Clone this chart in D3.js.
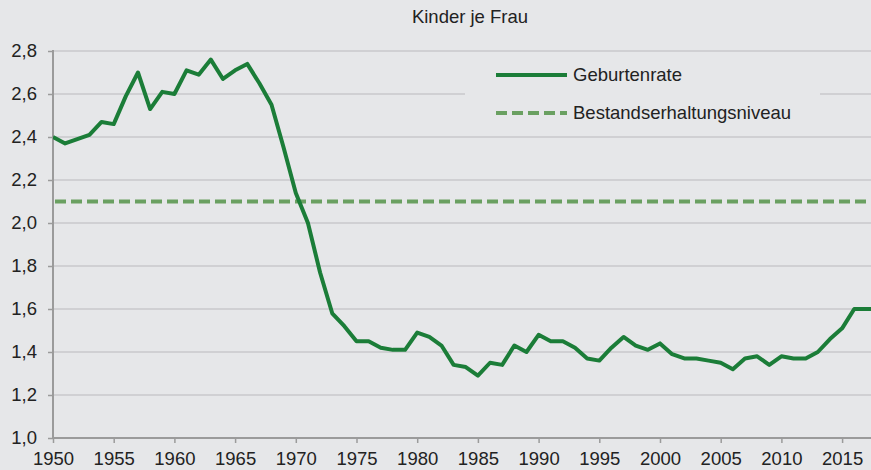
<!DOCTYPE html>
<html><head><meta charset="utf-8">
<script src="https://cdn.jsdelivr.net/npm/d3@7"></script>
<style>
html,body{margin:0;padding:0;background:#e6e7e9;}
svg{display:block;font-family:"Liberation Sans",Arial,sans-serif;}
</style></head>
<body>
<svg id="chart" width="871" height="470"></svg>
<script>
const title = "Kinder je Frau";
const years = d3.range(1950, 2019);
const birthRate = [
 2.40,2.37,2.39,2.41,2.47,2.46,2.59,2.70,2.53,2.61,
 2.60,2.71,2.69,2.76,2.67,2.71,2.74,2.65,2.55,2.35,
 2.14,2.00,1.77,1.58,1.52,1.45,1.45,1.42,1.41,1.41,
 1.49,1.47,1.43,1.34,1.33,1.29,1.35,1.34,1.43,1.40,
 1.48,1.45,1.45,1.42,1.37,1.36,1.42,1.47,1.43,1.41,
 1.44,1.39,1.37,1.37,1.36,1.35,1.32,1.37,1.38,1.34,
 1.38,1.37,1.37,1.40,1.46,1.51,1.60,1.60,1.60
];
const replacementLevel = 2.1;
const yTicks = [1.0,1.2,1.4,1.6,1.8,2.0,2.2,2.4,2.6,2.8];
const xTicks = d3.range(1950, 2016, 5);
const legendLabels = ["Geburtenrate", "Bestandserhaltungsniveau"];

(function(){
const svg = d3.select("#chart");
const W = 871, H = 470;
const mLeft = 53, mRight = 871, mTop = 51, mBottom = 438;
const pxPerYear = 12.14;
const x = d3.scaleLinear().domain([1950, 1950 + (mRight-mLeft)/pxPerYear]).range([mLeft, mRight]);
const y = d3.scaleLinear().domain([1.0, 2.8]).range([mBottom, mTop]);

const bg = "#e6e7e9", gridC = "#c8c9cb", axisC = "#9b9b9b", textC = "#222";
const lineC = "#1b7d38", dashC = "#6aa061";
const fs = 18.5;

svg.append("rect").attr("width", W).attr("height", H).attr("fill", bg);

svg.append("text").attr("x", 470).attr("y", 23).attr("text-anchor","middle")
  .attr("font-size", fs).attr("fill", textC).text(title);

// gridlines
svg.append("g").selectAll("line").data(yTicks.filter(d=>d>1.0)).join("line")
  .attr("x1", mLeft).attr("x2", mRight).attr("y1", d=>y(d)).attr("y2", d=>y(d))
  .attr("stroke", gridC).attr("stroke-width", 1.3);

// y axis
const yAxis = svg.append("g").attr("transform", `translate(${mLeft},0)`)
  .call(d3.axisLeft(y).tickValues(yTicks).tickSize(5).tickPadding(11)
    .tickFormat(d => d3.format(".1f")(d).replace(".", ",")));
yAxis.select(".domain").attr("stroke", axisC).attr("stroke-width", 2).attr("d", `M0,${mBottom}V${mTop-1}`);
yAxis.selectAll(".tick line").attr("stroke", axisC).attr("stroke-width", 1.5);
yAxis.selectAll("text").attr("font-size", fs).attr("fill", textC).attr("font-family", "Liberation Sans, Arial, sans-serif");

// x axis
const xAxis = svg.append("g").attr("transform", `translate(0,${mBottom})`)
  .call(d3.axisBottom(x).tickValues(xTicks).tickSize(5).tickPadding(9).tickFormat(d3.format("d")));
xAxis.select(".domain").attr("stroke", axisC).attr("stroke-width", 2).attr("d", `M${mLeft},0H${mRight}`);
xAxis.selectAll(".tick line").attr("stroke", axisC).attr("stroke-width", 1.5);
xAxis.selectAll("text").attr("font-size", fs).attr("fill", textC).attr("font-family", "Liberation Sans, Arial, sans-serif");

// clip
svg.append("clipPath").attr("id","clip").append("rect")
  .attr("x", mLeft).attr("y", 0).attr("width", mRight-mLeft).attr("height", mBottom);

// replacement level
svg.append("line").attr("clip-path","url(#clip)")
  .attr("x1", mLeft+2).attr("x2", mRight+10).attr("y1", y(replacementLevel)).attr("y2", y(replacementLevel))
  .attr("stroke", dashC).attr("stroke-width", 4).attr("stroke-dasharray", "11 5");

// legend box
svg.append("rect").attr("x", 465).attr("y", 56).attr("width", 355).attr("height", 74).attr("fill", bg);
svg.append("line").attr("x1", 496).attr("x2", 567).attr("y1", 75).attr("y2", 75)
  .attr("stroke", lineC).attr("stroke-width", 4);
svg.append("line").attr("x1", 496).attr("x2", 567).attr("y1", 113).attr("y2", 113)
  .attr("stroke", dashC).attr("stroke-width", 4).attr("stroke-dasharray", "11 5");
svg.append("text").attr("x", 573).attr("y", 81).attr("font-size", fs).attr("fill", textC).text(legendLabels[0]);
svg.append("text").attr("x", 573).attr("y", 119).attr("font-size", fs).attr("fill", textC).text(legendLabels[1]);

// main line
const data = years.map((yr,i)=>({yr, v: birthRate[i]}));
svg.append("path").datum(data).attr("clip-path","url(#clip)")
  .attr("fill","none").attr("stroke", lineC).attr("stroke-width", 4)
  .attr("stroke-linejoin","round")
  .attr("d", d3.line().x(d=>x(d.yr)).y(d=>y(d.v)));
})();
</script>
</body></html>
